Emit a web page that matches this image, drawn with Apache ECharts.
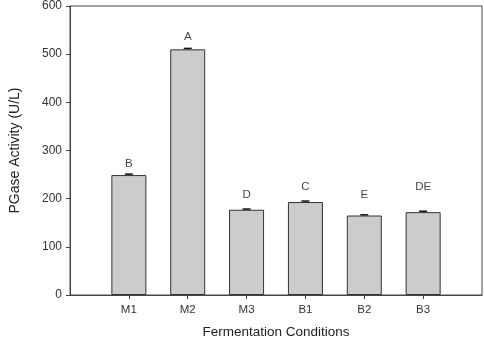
<!DOCTYPE html>
<html>
<head>
<meta charset="utf-8">
<script src="https://cdn.jsdelivr.net/npm/echarts@6/dist/echarts.min.js"></script>
<style>html,body{margin:0;padding:0;background:#fff}#c{width:484px;height:343px}</style>
</head>
<body>
<div id="c"></div>
<script>
const categories = ['M1', 'M2', 'M3', 'B1', 'B2', 'B3'];
const activity = [249, 510, 177, 193, 165, 172];
const errors = [2, 2, 1.5, 2, 1.5, 2];
const letters = ['B', 'A', 'D', 'C', 'E', 'DE'];
const letterHeights = [272, 536, 207, 224, 207, 224];
const yTicks = [0, 100, 200, 300, 400, 500, 600];

const axisCats = [''].concat(categories).concat(['']);
const chart = echarts.init(document.getElementById('c'));
chart.setOption({
  animation: false,
  grid: { left: 70, right: 2, top: 6, bottom: 48, show: true, borderColor: '#444', borderWidth: 1, containLabel: false, outerBoundsMode: 'none' },
  xAxis: {
    type: 'category', data: axisCats, boundaryGap: false,
    name: 'Fermentation Conditions', nameLocation: 'middle', nameGap: 30,
    nameTextStyle: { fontFamily: 'Liberation Sans', fontSize: 13.5, color: '#222' },
    axisLine: { lineStyle: { color: '#444', width: 1 } },
    axisTick: { length: 4, lineStyle: { color: '#444' }, interval: function (i) { return i > 0 && i < axisCats.length - 1; } },
    axisLabel: { fontFamily: 'Liberation Sans', fontSize: 11.5, color: '#333', margin: 9, interval: 0 },
    splitLine: { show: false }
  },
  yAxis: {
    type: 'value', min: yTicks[0], max: yTicks[yTicks.length - 1], interval: 100,
    name: 'PGase Activity (U/L)', nameLocation: 'middle', nameGap: 48,
    nameTextStyle: { fontFamily: 'Liberation Sans', fontSize: 14, color: '#222' },
    axisLine: { show: true, lineStyle: { color: '#444', width: 1 } },
    axisTick: { show: true, length: 4, lineStyle: { color: '#444' } },
    axisLabel: { fontFamily: 'Liberation Sans', fontSize: 12, color: '#333', margin: 8 },
    splitLine: { show: false }
  },
  series: [
    {
      type: 'bar',
      data: activity.map((v, i) => [i + 1, v]),
      barWidth: 35,
      itemStyle: { color: '#cccccc', borderColor: '#333', borderWidth: 1 }
    },
    {
      type: 'custom',
      data: activity.map((v, i) => [i + 1, v, errors[i]]),
      renderItem: function (params, api) {
        const x = api.value(0), v = api.value(1), e = api.value(2);
        const hi = api.coord([x, v + e]);
        const lo = api.coord([x, v]);
        const hw = 4;
        return {
          type: 'group',
          children: [
            { type: 'line', shape: { x1: hi[0], y1: hi[1], x2: lo[0], y2: lo[1] }, style: { stroke: '#111', lineWidth: 1 } },
            { type: 'line', shape: { x1: hi[0] - hw, y1: hi[1], x2: hi[0] + hw, y2: hi[1] }, style: { stroke: '#111', lineWidth: 1.5 } }
          ]
        };
      },
      z: 5
    },
    {
      type: 'scatter',
      data: letterHeights.map((v, i) => [i + 1, v]),
      symbolSize: 0,
      label: {
        show: true, position: 'inside',
        formatter: function (p) { return letters[p.dataIndex]; },
        fontFamily: 'Liberation Sans', fontSize: 11.5, color: '#111'
      },
      z: 6
    }
  ]
});
</script>
</body>
</html>
